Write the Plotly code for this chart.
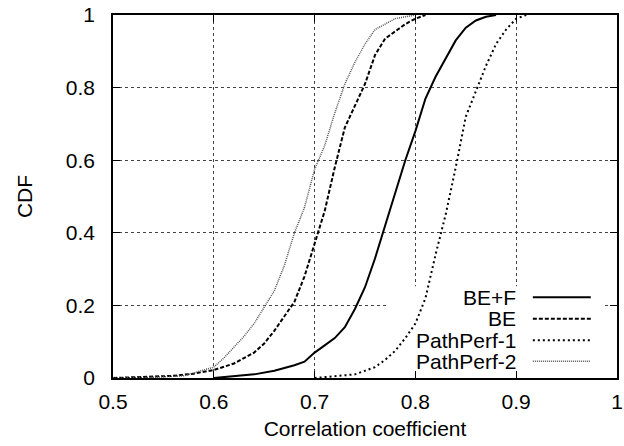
import plotly.graph_objects as go

# ---- data ----
bef_x = [0.60, 0.62, 0.64, 0.66, 0.68, 0.69, 0.70, 0.71, 0.72, 0.73, 0.74, 0.75,
         0.76, 0.77, 0.78, 0.79, 0.80, 0.81, 0.82, 0.83, 0.84, 0.85, 0.86, 0.87, 0.88]
bef_y = [0.0, 0.005, 0.01, 0.02, 0.035, 0.045, 0.07, 0.09, 0.11, 0.14, 0.19, 0.25,
         0.33, 0.42, 0.51, 0.60, 0.68, 0.77, 0.83, 0.88, 0.93, 0.965, 0.985, 0.995, 1.0]

be_x = [0.50, 0.53, 0.56, 0.58, 0.60, 0.62, 0.64, 0.65, 0.66, 0.67, 0.68, 0.69,
        0.70, 0.71, 0.72, 0.73, 0.74, 0.75, 0.76, 0.77, 0.78, 0.79, 0.80, 0.81]
be_y = [0.0, 0.002, 0.006, 0.012, 0.022, 0.04, 0.07, 0.095, 0.13, 0.17, 0.21, 0.28,
        0.37, 0.46, 0.58, 0.69, 0.75, 0.81, 0.89, 0.935, 0.955, 0.975, 0.99, 1.0]

pp1_x = [0.70, 0.72, 0.74, 0.76, 0.77, 0.78, 0.79, 0.80, 0.81, 0.82, 0.83, 0.84,
         0.85, 0.86, 0.87, 0.88, 0.89, 0.90, 0.91]
pp1_y = [0.0, 0.004, 0.01, 0.03, 0.05, 0.075, 0.11, 0.15, 0.22, 0.34, 0.45, 0.58,
         0.72, 0.79, 0.86, 0.92, 0.96, 0.99, 1.0]

pp2_x = [0.50, 0.54, 0.57, 0.60, 0.61, 0.62, 0.63, 0.64, 0.65, 0.66, 0.67, 0.68,
         0.69, 0.70, 0.71, 0.72, 0.73, 0.74, 0.75, 0.76, 0.77, 0.78, 0.79, 0.80]
pp2_y = [0.0, 0.002, 0.006, 0.03, 0.055, 0.085, 0.115, 0.15, 0.195, 0.24, 0.31, 0.40,
         0.47, 0.575, 0.64, 0.73, 0.81, 0.87, 0.92, 0.96, 0.975, 0.99, 0.995, 1.0]

series_names = ["BE+F", "BE", "PathPerf-1", "PathPerf-2"]
x_ticks = [0.5, 0.6, 0.7, 0.8, 0.9, 1]
x_tick_labels = ["0.5", "0.6", "0.7", "0.8", "0.9", "1"]
y_ticks = [0, 0.2, 0.4, 0.6, 0.8, 1]
y_tick_labels = ["0", "0.2", "0.4", "0.6", "0.8", "1"]

styles = [
    dict(color="black", width=2, dash="solid"),
    dict(color="black", width=2, dash="4px,2px"),
    dict(color="black", width=2, dash="2px,3px"),
    dict(color="#555555", width=1.5, dash="1px,1px"),
]
data = [(bef_x, bef_y), (be_x, be_y), (pp1_x, pp1_y), (pp2_x, pp2_y)]

FONT = "Liberation Sans, Arial, sans-serif"
FS = 21

fig = go.Figure()
for (xs, ys), name, st in zip(data, series_names, styles):
    fig.add_trace(go.Scatter(x=xs, y=ys, mode="lines", name=name, line=st,
                             showlegend=False))

# opaque key box (hides grid lines, curves stay on top)
fig.add_shape(type="rect", xref="x", yref="y", x0=0.773, x1=0.987, y0=0.0, y1=0.253,
              fillcolor="white", line=dict(width=0), layer="between")

# manual gnuplot-style key: text right-aligned, sample line to the right
row_y = [0.2225, 0.163, 0.104, 0.046]
for name, st, ry in zip(series_names, styles, row_y):
    fig.add_annotation(xref="paper", yref="paper", x=0.8036, y=ry, text=name,
                       showarrow=False, xanchor="right", yanchor="middle",
                       font=dict(family=FONT, size=FS, color="black"))
    fig.add_shape(type="line", xref="paper", yref="paper", x0=0.833, x1=0.948,
                  y0=ry, y1=ry, line=st)

axis_common = dict(
    showline=True, linecolor="black", linewidth=1.5, mirror="ticks",
    ticks="inside", ticklen=7, tickwidth=1, tickcolor="black",
    showgrid=True, gridcolor="#444444", gridwidth=1, griddash="dot",
    zeroline=False, automargin=False,
    tickfont=dict(family=FONT, size=FS, color="black"),
)

fig.update_xaxes(range=[0.5, 1], tickvals=x_ticks, ticktext=x_tick_labels,
                 ticklabelstandoff=4,
                 title=dict(text="Correlation coefficient", standoff=9,
                            font=dict(family=FONT, size=FS, color="black")),
                 **axis_common)
fig.update_yaxes(range=[0, 1], tickvals=y_ticks, ticktext=y_tick_labels,
                 ticklabelstandoff=12,
                 title=dict(text="CDF", standoff=27,
                            font=dict(family=FONT, size=FS, color="black")),
                 **axis_common)

fig.update_layout(
    width=624, height=446,
    margin=dict(l=113, r=7, t=15, b=68),
    plot_bgcolor="white", paper_bgcolor="white",
    font=dict(family=FONT, size=FS, color="black"),
)

fig.write_html("out.html")
